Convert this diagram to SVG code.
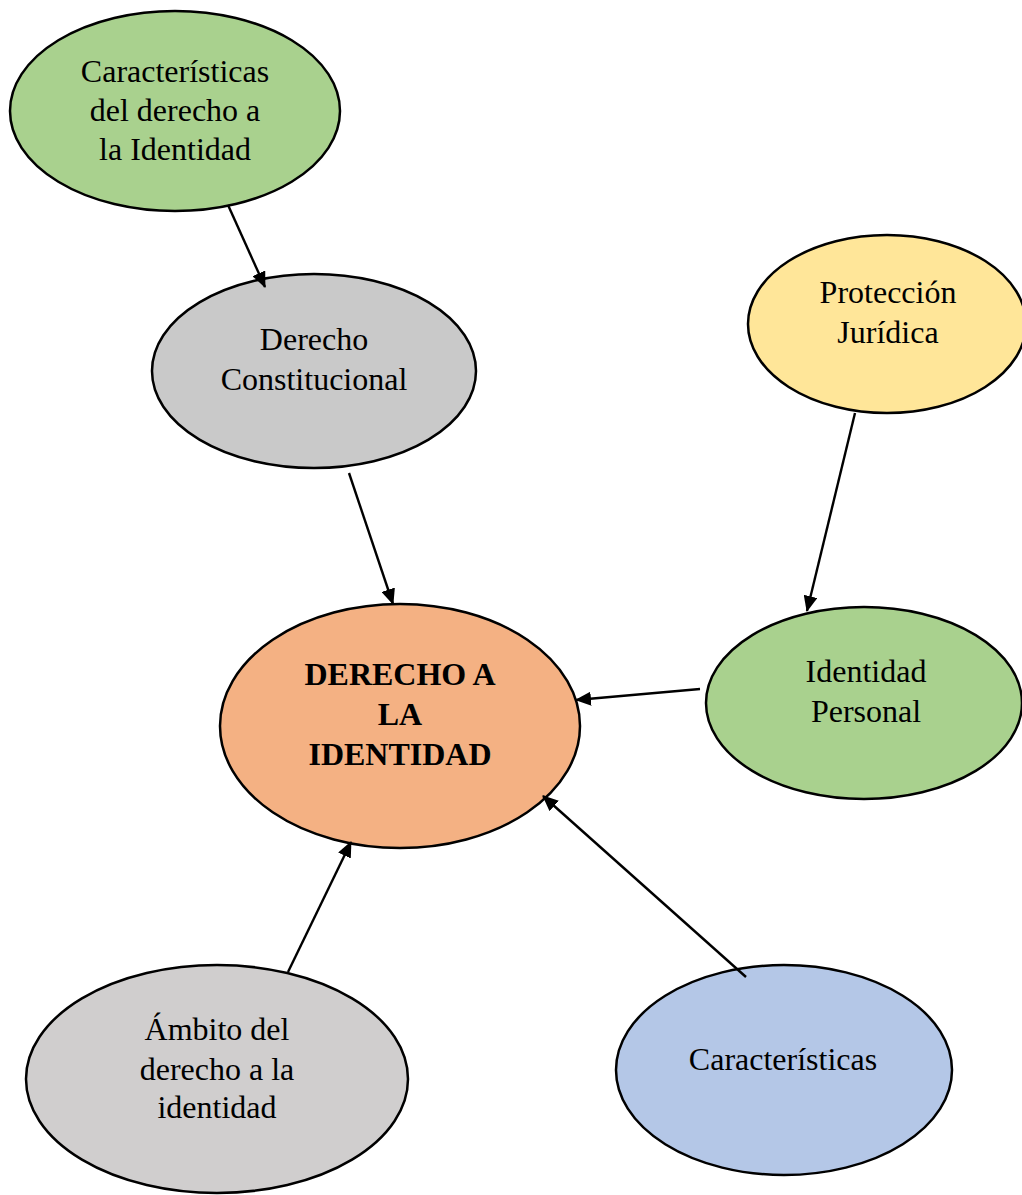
<svg xmlns="http://www.w3.org/2000/svg" width="1022" height="1195" viewBox="0 0 1022 1195">
<style>
.n{stroke:#000;stroke-width:2.5}
.t{font-family:"Liberation Serif","Times New Roman",serif;font-size:32px;fill:#000;text-anchor:middle}
.b{font-weight:bold}
.c{stroke:#000;stroke-width:2.4;fill:none;marker-end:url(#ah)}
</style>
<defs>
<marker id="ah" viewBox="0 0 16 14" refX="15" refY="7" markerWidth="16" markerHeight="14" markerUnits="userSpaceOnUse" orient="auto">
<path d="M0,0 L16,7 L0,14 z" fill="#000"/>
</marker>
</defs>
<rect width="1022" height="1195" fill="#fff"/>
<g id="n-caracteristicas-derecho">
<ellipse class="n" cx="175" cy="111" rx="165" ry="100" fill="#A9D18E"/>
<text class="t" x="175" y="82">Características</text>
<text class="t" x="175" y="121">del derecho a</text>
<text class="t" x="175" y="160">la Identidad</text>
</g>
<g id="n-constitucional">
<ellipse class="n" cx="314" cy="371" rx="162" ry="97" fill="#C9C9C9"/>
<text class="t" x="314" y="350">Derecho</text>
<text class="t" x="314" y="390">Constitucional</text>
</g>
<g id="n-proteccion">
<ellipse class="n" cx="887" cy="324" rx="139" ry="89" fill="#FFE699"/>
<text class="t" x="888" y="303">Protección</text>
<text class="t" x="888" y="343">Jurídica</text>
</g>
<g id="n-central">
<ellipse class="n" cx="400" cy="726" rx="180" ry="122" fill="#F4B183"/>
<text class="t b" x="400" y="685">DERECHO A</text>
<text class="t b" x="400" y="725">LA</text>
<text class="t b" x="400" y="765">IDENTIDAD</text>
</g>
<g id="n-identidad-personal">
<ellipse class="n" cx="864" cy="703" rx="158" ry="96" fill="#A9D18E"/>
<text class="t" x="866" y="682">Identidad</text>
<text class="t" x="866" y="722">Personal</text>
</g>
<g id="n-ambito">
<ellipse class="n" cx="217" cy="1079" rx="191" ry="114" fill="#D0CECE"/>
<text class="t" x="217" y="1040">Ámbito del</text>
<text class="t" x="217" y="1080">derecho a la</text>
<text class="t" x="217" y="1118">identidad</text>
</g>
<g id="n-caracteristicas">
<ellipse class="n" cx="784" cy="1070" rx="168" ry="105" fill="#B4C7E7"/>
<text class="t" x="783" y="1070">Características</text>
</g>
<g id="connectors">
<line class="c" x1="228" y1="205" x2="265" y2="287"/>
<line class="c" x1="349" y1="473" x2="393" y2="604"/>
<line class="c" x1="855" y1="413" x2="807" y2="611"/>
<line class="c" x1="700" y1="689" x2="576" y2="700"/>
<line class="c" x1="288" y1="972" x2="351" y2="842"/>
<line class="c" x1="746" y1="977" x2="543" y2="796"/>
</g>
</svg>
